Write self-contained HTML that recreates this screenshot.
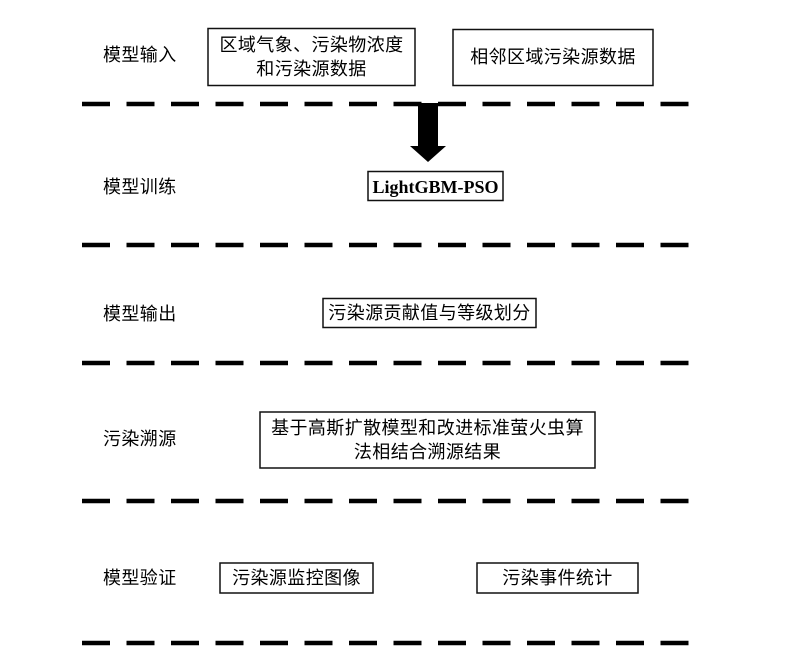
<!DOCTYPE html>
<html>
<head>
<meta charset="utf-8">
<style>
  html,body{margin:0;padding:0;background:#fff;}
  svg{display:block;}
  .t{font-family:"Liberation Sans","Noto Sans CJK SC",sans-serif;font-size:18px;fill:#000;letter-spacing:0.4px;}
  .b{fill:none;stroke:#111;stroke-width:1.5;}
  .d{stroke:#000;stroke-width:4.5;stroke-dasharray:28 16.5;fill:none;}
</style>
</head>
<body>
<svg width="795" height="667" viewBox="0 0 795 667" xmlns="http://www.w3.org/2000/svg">
  <!-- dashed separators -->
  <line class="d" x1="82" y1="104" x2="690" y2="104"/>
  <line class="d" x1="82" y1="245" x2="690" y2="245"/>
  <line class="d" x1="82" y1="363" x2="690" y2="363"/>
  <line class="d" x1="82" y1="501" x2="690" y2="501"/>
  <line class="d" x1="82" y1="643" x2="690" y2="643"/>

  <!-- row labels -->
  <text class="t" x="103" y="55" dominant-baseline="central">模型输入</text>
  <text class="t" x="103" y="187" dominant-baseline="central">模型训练</text>
  <text class="t" x="103" y="314" dominant-baseline="central">模型输出</text>
  <text class="t" x="103" y="439" dominant-baseline="central">污染溯源</text>
  <text class="t" x="103" y="578" dominant-baseline="central">模型验证</text>

  <!-- input boxes -->
  <rect class="b" x="208" y="28.5" width="207" height="57"/>
  <text class="t" x="311.5" y="45" text-anchor="middle" dominant-baseline="central">区域气象、污染物浓度</text>
  <text class="t" x="311.5" y="69" text-anchor="middle" dominant-baseline="central">和污染源数据</text>

  <rect class="b" x="453" y="29.5" width="200" height="56"/>
  <text class="t" x="553" y="57" text-anchor="middle" dominant-baseline="central">相邻区域污染源数据</text>

  <!-- arrow -->
  <polygon points="418,103 438,103 438,146 446,146 428,162 410,146 418,146" fill="#000"/>

  <!-- training -->
  <rect class="b" x="368" y="171.5" width="135" height="29"/>
  <text x="435.5" y="187" text-anchor="middle" dominant-baseline="central" style="font-family:'Liberation Serif',serif;font-weight:bold;font-size:18px;fill:#000;">LightGBM-PSO</text>

  <!-- output -->
  <rect class="b" x="323" y="298.5" width="213" height="29"/>
  <text class="t" x="429.5" y="313" text-anchor="middle" dominant-baseline="central">污染源贡献值与等级划分</text>

  <!-- tracing -->
  <rect class="b" x="260" y="412" width="335" height="56"/>
  <text class="t" x="427.5" y="428" text-anchor="middle" dominant-baseline="central">基于高斯扩散模型和改进标准萤火虫算</text>
  <text class="t" x="427.5" y="452" text-anchor="middle" dominant-baseline="central">法相结合溯源结果</text>

  <!-- validation -->
  <rect class="b" x="220" y="563" width="153" height="30"/>
  <text class="t" x="296.5" y="578" text-anchor="middle" dominant-baseline="central">污染源监控图像</text>
  <rect class="b" x="477" y="563" width="161" height="30"/>
  <text class="t" x="557.5" y="578" text-anchor="middle" dominant-baseline="central">污染事件统计</text>
</svg>
</body>
</html>
